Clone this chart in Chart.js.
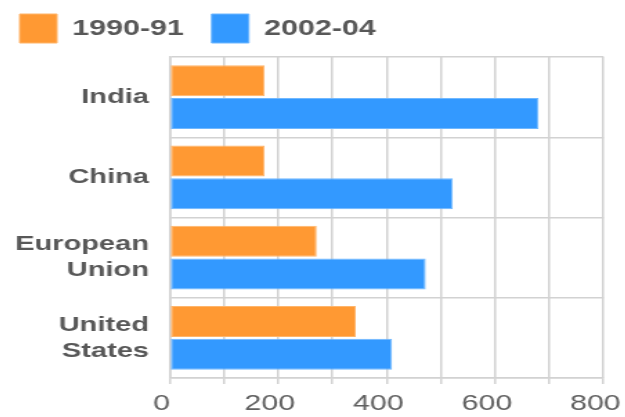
<!DOCTYPE html>
<html>
<head>
<meta charset="utf-8">
<script src="https://cdn.jsdelivr.net/npm/chart.js@4"></script>
<style>
  html, body { margin: 0; padding: 0; background: #fff; overflow: hidden; width: 625px; height: 417px; }
  /* the chart is drawn in a narrower box and widened horizontally */
  #wrap { position: absolute; left: -8.3px; top: -6px; width: 467.6px; height: 423px; transform: scaleX(1.38); transform-origin: 0 0; }
</style>
</head>
<body>
<div id="wrap"><canvas id="c"></canvas></div>
<script>
const regions = ['India', 'China', ['European', 'Union'], ['United', 'States']];
const seriesNames = ['1990-91', '2002-04'];
const values1990 = [175, 175, 271, 343];
const values2002 = [680, 522, 472, 410];
const xTickLabels = [0, 200, 400, 600, 800];

const FONT = '"Liberation Sans", Arial, Helvetica, sans-serif';
const GRID = '#d2d2d2';

// Fix the legend block height so the plot starts where we want it
const legendHeight = {
  id: 'legendHeight',
  beforeInit(chart) {
    const lg = chart.legend;
    if (!lg) return;
    const fit = lg.fit;
    lg.fit = function () { fit.call(this); this.height = 63; };
  }
};

new Chart(document.getElementById('c'), {
  type: 'bar',
  data: {
    labels: regions,
    datasets: [
      {
        label: seriesNames[0],
        data: values1990,
        backgroundColor: '#FF9933',
        borderColor: '#FFB56B',
        borderWidth: 1,
        borderSkipped: false
      },
      {
        label: seriesNames[1],
        data: values2002,
        backgroundColor: '#3399FF',
        borderColor: '#70B8FF',
        borderWidth: 1,
        borderSkipped: false
      }
    ]
  },
  options: {
    indexAxis: 'y',
    responsive: true,
    maintainAspectRatio: false,
    animation: false,
    datasets: { bar: { categoryPercentage: 0.82, barPercentage: 0.94 } },
    layout: { padding: 0 },
    plugins: {
      tooltip: { enabled: false },
      title: { display: false },
      legend: {
        display: true,
        position: 'top',
        align: 'start',
        labels: {
          boxWidth: 27,
          boxHeight: 29,
          padding: 20,
          color: '#585858',
          font: { family: FONT, size: 22, weight: 'bold' }
        }
      }
    },
    scales: {
      x: {
        type: 'linear',
        min: 0,
        max: 800,
        grid: { color: GRID, lineWidth: 1.5, tickLength: 6, drawTicks: true, tickColor: GRID },
        border: { color: GRID, width: 1.5 },
        ticks: {
          stepSize: 100,
          autoSkip: false,
          maxRotation: 0,
          padding: 7,
          labelOffset: -6,
          color: '#606060',
          font: { family: FONT, size: 22 },
          callback: (v) => (xTickLabels.includes(v) ? String(v) : '')
        },
        afterFit: (scale) => { scale.height = 39; }
      },
      y: {
        type: 'category',
        offset: true,
        grid: { offset: true, color: GRID, lineWidth: 1.5, drawTicks: false },
        border: { color: GRID, width: 1.5 },
        ticks: {
          padding: 15,
          color: '#585858',
          font: { family: FONT, size: 21, weight: 'bold', lineHeight: 1.24 }
        },
        afterFit: (scale) => { scale.width = 128.5; }
      }
    }
  },
  plugins: [legendHeight]
});
</script>
</body>
</html>
